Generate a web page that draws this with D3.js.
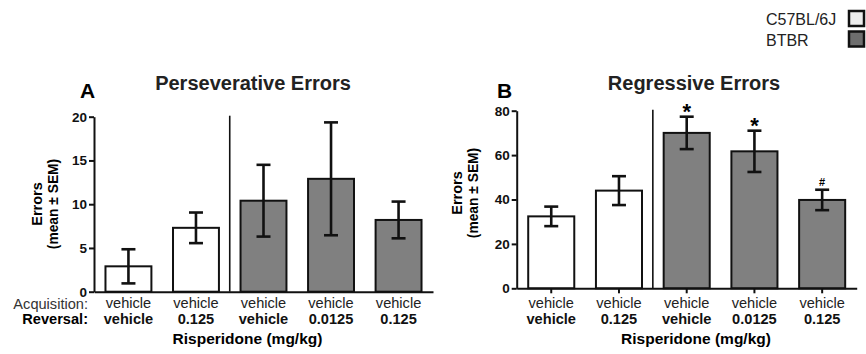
<!DOCTYPE html>
<html>
<head>
<meta charset="utf-8">
<script src="https://cdn.jsdelivr.net/npm/d3@7"></script>
<style>
  body { margin: 0; background: #fff; }
  svg { font-family: "Liberation Sans", Arial, sans-serif; }
</style>
</head>
<body>
<script>
// Risperidone reversal learning - two panels

const w = 866;
const h = 354;

const groups = ["g1", "g2", "g3", "g4", "g5"];
const acquisition = ["vehicle", "vehicle", "vehicle", "vehicle", "vehicle"];
const reversal = ["vehicle", "0.125", "vehicle", "0.0125", "0.125"];
const strain = ["C57BL/6J", "C57BL/6J", "BTBR", "BTBR", "BTBR"];

const persevMean = [2.9, 7.3, 10.4, 12.9, 8.2];
const persevSem = [1.95, 1.75, 4.1, 6.45, 2.1];
const persevTicks = [0, 5, 10, 15, 20];

const regressMean = [32.4, 44.0, 70.0, 61.7, 39.8];
const regressSem = [4.4, 6.5, 7.3, 9.3, 4.6];
const regressTicks = [0, 20, 40, 60, 80];
const regressMarks = ["", "", "*", "*", "#"];

const legendNames = ["C57BL/6J", "BTBR"];

const color = d3.scaleOrdinal()
  .domain(legendNames)
  .range(["#ffffff", "#808080"]);
const legendColor = d3.scaleOrdinal()
  .domain(legendNames)
  .range(["#ececec", "#6e6e6e"]);

const svg = d3.select("body")
  .append("svg")
  .attr("width", w)
  .attr("height", h);

function panel(opt) {
  const g = svg.append("g");

  const x_scale = d3.scaleBand()
    .domain(groups)
    .range([opt.x0, opt.x1])
    .paddingInner(0.32)
    .paddingOuter(0.17);

  const y_scale = d3.scaleLinear()
    .domain([0, opt.max])
    .range([opt.y0, opt.y1]);

  // bars
  g.selectAll("rect.bar")
    .data(groups)
    .enter()
    .append("rect")
    .attr("class", "bar")
    .attr("x", d => x_scale(d))
    .attr("y", (d, i) => y_scale(opt.mean[i]))
    .attr("width", x_scale.bandwidth())
    .attr("height", (d, i) => y_scale(0) - y_scale(opt.mean[i]))
    .attr("fill", (d, i) => color(strain[i]))
    .attr("stroke", "#111")
    .attr("stroke-width", 2);

  // error bars
  const eb = g.selectAll("g.err")
    .data(groups)
    .enter()
    .append("g")
    .attr("class", "err")
    .attr("stroke", "#111")
    .attr("stroke-width", 2.6);

  const cx = d => x_scale(d) + x_scale.bandwidth() / 2;

  eb.append("line")
    .attr("x1", cx).attr("x2", cx)
    .attr("y1", (d, i) => y_scale(opt.mean[i] + opt.sem[i]))
    .attr("y2", (d, i) => y_scale(opt.mean[i] - opt.sem[i]));
  eb.append("line")
    .attr("x1", d => cx(d) - 7).attr("x2", d => cx(d) + 7)
    .attr("y1", (d, i) => y_scale(opt.mean[i] + opt.sem[i]))
    .attr("y2", (d, i) => y_scale(opt.mean[i] + opt.sem[i]));
  eb.append("line")
    .attr("x1", d => cx(d) - 7).attr("x2", d => cx(d) + 7)
    .attr("y1", (d, i) => y_scale(opt.mean[i] - opt.sem[i]))
    .attr("y2", (d, i) => y_scale(opt.mean[i] - opt.sem[i]));

  // significance marks
  if (opt.marks) {
    g.selectAll("text.mark")
      .data(groups)
      .enter()
      .append("text")
      .attr("class", "mark")
      .attr("x", cx)
      .attr("y", (d, i) => y_scale(opt.mean[i] + opt.sem[i]) + (opt.marks[i] === "#" ? -4 : 2))
      .attr("text-anchor", "middle")
      .attr("font-weight", "bold")
      .attr("font-size", (d, i) => opt.marks[i] === "#" ? "11px" : "22px")
      .text((d, i) => opt.marks[i]);
  }

  // divider between strains
  const divX = (x_scale(groups[1]) + x_scale.bandwidth() + x_scale(groups[2])) / 2;
  g.append("line")
    .attr("x1", divX).attr("x2", divX)
    .attr("y1", opt.y1 - 1).attr("y2", opt.y0)
    .attr("stroke", "#111")
    .attr("stroke-width", 1.6);

  // axes
  const y_axis = d3.axisLeft(y_scale)
    .tickValues(opt.ticks)
    .tickSize(5)
    .tickSizeOuter(0)
    .tickPadding(2);

  const ya = g.append("g")
    .attr("transform", `translate(${opt.x0},0)`)
    .call(y_axis);
  ya.selectAll("path, line").attr("stroke", "#111").attr("stroke-width", 2);
  ya.selectAll("text")
    .attr("font-size", "13.5px")
    .attr("font-weight", "bold")
    .attr("font-family", "Liberation Sans, Arial, sans-serif")
    .attr("fill", "#111");

  const x_axis = d3.axisBottom(x_scale)
    .tickSize(opt.xTicks ? 5 : 0)
    .tickSizeOuter(0)
    .tickFormat("");

  const xa = g.append("g")
    .attr("transform", `translate(0,${opt.y0})`)
    .call(x_axis);
  xa.selectAll("path, line").attr("stroke", "#111").attr("stroke-width", 2);

  // category labels
  g.selectAll("text.acq")
    .data(groups)
    .enter()
    .append("text")
    .attr("x", cx)
    .attr("y", 307.5)
    .attr("text-anchor", "middle")
    .attr("font-size", "14.6px")
    .attr("fill", "#222")
    .text((d, i) => acquisition[i]);

  g.selectAll("text.rev")
    .data(groups)
    .enter()
    .append("text")
    .attr("x", cx)
    .attr("y", 324)
    .attr("text-anchor", "middle")
    .attr("font-size", "14.6px")
    .attr("font-weight", "bold")
    .attr("fill", "#111")
    .text((d, i) => reversal[i]);

  g.append("text")
    .attr("x", opt.axisTitleX)
    .attr("y", 344)
    .attr("text-anchor", "middle")
    .attr("font-size", "15.5px")
    .attr("font-weight", "bold")
    .text("Risperidone (mg/kg)");

  // titles
  g.append("text")
    .attr("x", opt.titleX)
    .attr("y", 90)
    .attr("text-anchor", "middle")
    .attr("font-size", "20px")
    .attr("font-weight", "bold")
    .attr("fill", "#222")
    .text(opt.title);

  g.append("text")
    .attr("x", opt.letterX)
    .attr("y", 98)
    .attr("font-size", "21px")
    .attr("font-weight", "bold")
    .text(opt.letter);

  // y label
  const yl = g.append("g")
    .attr("transform", `translate(${opt.labelX},${opt.labelY}) rotate(-90)`);
  yl.append("text")
    .attr("y", 0)
    .attr("text-anchor", "middle")
    .attr("font-size", "14.5px")
    .attr("font-weight", "bold")
    .text("Errors");
  yl.append("text")
    .attr("y", 16)
    .attr("text-anchor", "middle")
    .attr("font-size", "13.8px")
    .attr("font-weight", "bold")
    .text("(mean \u00B1 SEM)");
}

panel({
  x0: 94, x1: 433, y0: 291.7, y1: 116.7, max: 20,
  mean: persevMean, sem: persevSem, ticks: persevTicks,
  xTicks: false, title: "Perseverative Errors", titleX: 253,
  axisTitleX: 247.5,
  letter: "A", letterX: 80, labelX: 42, labelY: 204
});

panel({
  x0: 516.7, x1: 856.7, y0: 288.3, y1: 110.7, max: 80,
  mean: regressMean, sem: regressSem, ticks: regressTicks, marks: regressMarks,
  xTicks: true, title: "Regressive Errors", titleX: 694,
  axisTitleX: 696,
  letter: "B", letterX: 497, labelX: 462, labelY: 193
});

// row captions for panel A
svg.append("text")
  .attr("x", 88).attr("y", 308.5)
  .attr("text-anchor", "end")
  .attr("font-size", "14.6px")
  .attr("fill", "#333")
  .text("Acquisition:");
svg.append("text")
  .attr("x", 88).attr("y", 324)
  .attr("text-anchor", "end")
  .attr("font-size", "14.6px")
  .attr("font-weight", "bold")
  .text("Reversal:");

// legend
const legend = svg.append("g")
  .attr("class", "legend");

const legendItem = legend.selectAll(".legend-item")
  .data(legendNames)
  .enter()
  .append("g")
  .attr("class", "legend-item")
  .attr("transform", (d, i) => `translate(0, ${i * 20.5})`);

legendItem.append("text")
  .attr("x", 766)
  .attr("y", 25)
  .attr("font-size", "16px")
  .attr("fill", "#222")
  .text(d => d);

legendItem.append("rect")
  .attr("x", 849)
  .attr("y", 11)
  .attr("width", 15)
  .attr("height", 15)
  .attr("fill", d => legendColor(d))
  .attr("stroke", "#111")
  .attr("stroke-width", 2.5);
</script>
</body>
</html>
